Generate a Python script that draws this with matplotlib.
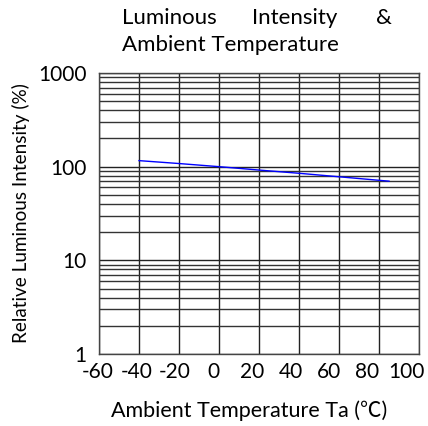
import matplotlib
matplotlib.use('Agg')
import matplotlib.pyplot as plt
from matplotlib.ticker import FixedLocator, NullFormatter
from matplotlib.transforms import ScaledTranslation

plt.rcParams['font.family'] = ['Lato', 'Noto Sans CJK SC', 'DejaVu Sans']

# data
temps = [-40, -20, 0, 20, 40, 60, 85]
intensity = [116, 108, 100, 92, 85, 78, 70]
x_ticks = [-60, -40, -20, 0, 20, 40, 60, 80, 100]
y_ticks = [1, 10, 100, 1000]

fig = plt.figure(figsize=(4.28, 4.26), dpi=100)
ax = fig.add_axes([99/428, 1 - 354/426, 320/428, 281/426])

ax.set_yscale('log')
ax.set_xlim(-60, 100)
ax.set_ylim(1, 1000)

ax.plot(temps, intensity, color='#0000ff', linewidth=1)

ax.set_xticks(x_ticks)
ax.set_xticklabels([str(t) for t in x_ticks])
ax.set_yticks(y_ticks)
ax.set_yticklabels([str(t) for t in y_ticks])
minor = [m * 10 ** d for d in range(3) for m in range(2, 10)]
ax.yaxis.set_minor_locator(FixedLocator(minor))
ax.yaxis.set_minor_formatter(NullFormatter())

ax.grid(True, which='major', color='#222222', linewidth=1)
ax.grid(True, which='minor', axis='y', color='#333333', linewidth=1)
ax.tick_params(which='both', length=0, labelsize=15)
ax.tick_params(axis='x', pad=6)
ax.tick_params(axis='y', pad=9)
for s in ax.spines.values():
    s.set_color('#444444')
    s.set_linewidth(1)

# x labels in the original sit slightly left of their gridlines, more so to the right
for i, lab in enumerate(ax.get_xticklabels()):
    lab.set_transform(lab.get_transform() +
                      ScaledTranslation(-(1 + 1.5 * i) / 100, 0, fig.dpi_scale_trans))

ax.set_ylabel('Relative Luminous Intensity (%)', fontsize=13.6)
ax.yaxis.set_label_coords(-78/320, 0.5)
ax.set_xlabel('Ambient Temperature Ta (℃)', fontsize=15.5)
ax.xaxis.set_label_coords(0.47, -57/281)
ax.xaxis.label.set_va('center')
ax.yaxis.label.set_va('center')

fig.text(122/428, 1 - 18/426, 'Luminous', fontsize=16, ha='left', va='center')
fig.text(295/428, 1 - 18/426, 'Intensity', fontsize=16, ha='center', va='center')
fig.text(392/428, 1 - 18/426, '&', fontsize=16, ha='right', va='center')
fig.text(122/428, 1 - 45/426, 'Ambient Temperature', fontsize=16, ha='left', va='center')

fig.savefig('out.png', dpi=100)
